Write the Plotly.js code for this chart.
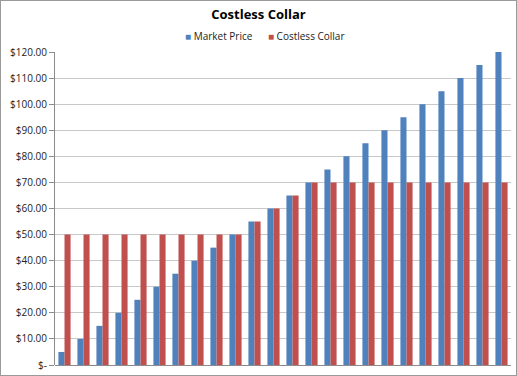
<!DOCTYPE html>
<html>
<head>
<meta charset="utf-8">
<script src="https://cdn.plot.ly/plotly-3.0.1.min.js"></script>
<style>
html,body{margin:0;padding:0;background:#fff;}
#chart{width:517px;height:376px;box-sizing:border-box;border:1px solid #9a9a9a;}
</style>
</head>
<body>
<div id="chart"></div>
<script>
const categories = ["1","2","3","4","5","6","7","8","9","10","11","12","13","14","15","16","17","18","19","20","21","22","23","24"];
const marketPrice = [5,10,15,20,25,30,35,40,45,50,55,60,65,70,75,80,85,90,95,100,105,110,115,120];
const costlessCollar = [50,50,50,50,50,50,50,50,50,50,55,60,65,70,70,70,70,70,70,70,70,70,70,70];
const yTickVals = [0,10,20,30,40,50,60,70,80,90,100,110,120];
const yTickText = ["$-","$10.00","$20.00","$30.00","$40.00","$50.00","$60.00","$70.00","$80.00","$90.00","$100.00","$110.00","$120.00"];
const seriesNames = ["Market Price","Costless Collar"];
const seriesColors = ["#4F81BD","#C0504D"];

const traces = [
  {type:'bar', name:seriesNames[0], x:categories, y:marketPrice, marker:{color:seriesColors[0]}},
  {type:'bar', name:seriesNames[1], x:categories, y:costlessCollar, marker:{color:seriesColors[1]}}
];
const legendText = seriesNames.map((n,i)=>'<span style="color:'+seriesColors[i]+'">■</span> '+n).join('&nbsp;&nbsp;&nbsp;&nbsp;&nbsp;&nbsp;');
const layout = {
  width:515, height:374,
  margin:{l:54, r:5, t:51, b:10, pad:0},
  paper_bgcolor:'#fff', plot_bgcolor:'#fff',
  font:{family:'Open Sans, sans-serif', size:10, color:'#222'},
  title:{text:'<b>Costless Collar</b>', x:0.5, xanchor:'center', y:1-13/374, yref:'container', yanchor:'middle', font:{size:13, color:'#000'}},
  showlegend:false,
  annotations:[{text:legendText, xref:'paper', yref:'paper', x:0.46, y:1.05, xanchor:'center', yanchor:'middle', showarrow:false, font:{size:10, color:'#222'}}],
  barmode:'group', bargap:0.36, bargroupgap:0,
  xaxis:{type:'category', showticklabels:false, showline:false, showgrid:false, zeroline:false, ticks:''},
  yaxis:{range:[0,120], tickvals:yTickVals, ticktext:yTickText, showgrid:true, gridcolor:'#c8c8c8', gridwidth:1,
         showline:true, linecolor:'#8c8c8c', linewidth:1, ticks:'outside', ticklen:5, tickcolor:'#8c8c8c',
         zeroline:true, zerolinecolor:'#8c8c8c', zerolinewidth:1, fixedrange:true}
};
Plotly.newPlot('chart', traces, layout, {displayModeBar:false, staticPlot:true});
</script>
</body>
</html>
